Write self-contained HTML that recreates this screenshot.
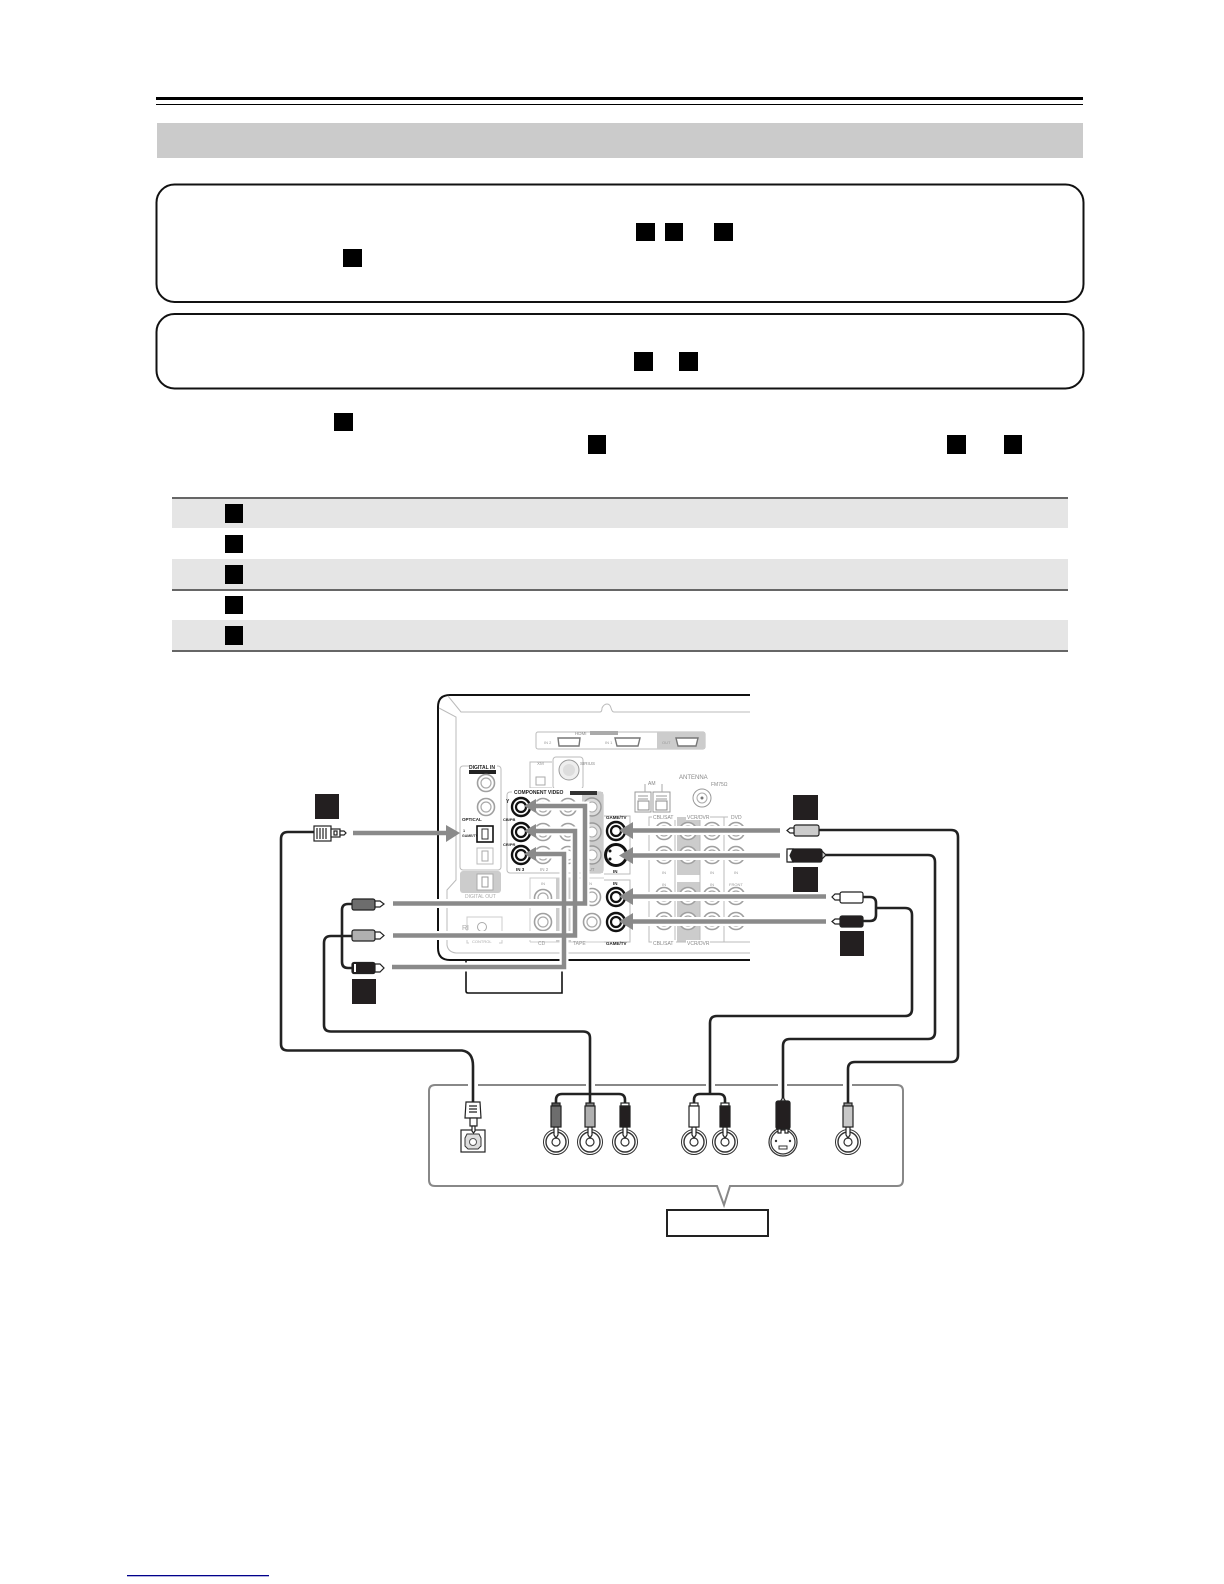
<!DOCTYPE html>
<html><head><meta charset="utf-8"><style>
html,body{margin:0;padding:0;background:#fff}
svg{display:block}
text{font-family:"Liberation Sans",sans-serif}
</style></head><body>
<svg width="1224" height="1584" viewBox="0 0 1224 1584" xmlns="http://www.w3.org/2000/svg">
<defs>
<g id="gj"><circle r="8.5" fill="#fff" stroke="#a0a0a0" stroke-width="1.6"/><circle r="5" fill="#fff" stroke="#aaa" stroke-width="1.2"/></g>
<g id="gs"><circle r="9" fill="#ddd" stroke="#999" stroke-width="1.4"/><circle r="5" fill="#fff" stroke="#aaa" stroke-width="1"/></g>
<g id="bj"><circle r="9" fill="#fff" stroke="#111" stroke-width="2.4"/><circle r="5" fill="#fff" stroke="#111" stroke-width="2.2"/></g>
<g id="lj"><circle r="12.500" fill="#fff" stroke="#333" stroke-width="1"/><circle r="10" fill="#fff" stroke="#333" stroke-width="1.4"/><circle r="4" fill="#fff" stroke="#333" stroke-width="1.2"/></g>
</defs>
<rect width="1224" height="1584" fill="#fff"/>

<rect x="156" y="97" width="927" height="3" fill="#000"/>
<rect x="156" y="104" width="927" height="1" fill="#000"/>
<rect x="157" y="123" width="926" height="35" fill="#cbcbcb"/>
<rect x="156.500" y="184.500" width="927" height="117.500" rx="18" fill="#fff" stroke="#111" stroke-width="2"/>
<rect x="156.500" y="314" width="927" height="74.500" rx="18" fill="#fff" stroke="#111" stroke-width="2"/>

<g fill="#000">
<rect x="636" y="223" width="19" height="18"/><rect x="665" y="223" width="18" height="18"/><rect x="714" y="223" width="19" height="18"/>
<rect x="343" y="249" width="19" height="18"/>
<rect x="634" y="352" width="19" height="19"/><rect x="679" y="352" width="19" height="19"/>
<rect x="334" y="413" width="19" height="18"/>
<rect x="588" y="435" width="18" height="19"/><rect x="947" y="435" width="19" height="19"/><rect x="1004" y="435" width="18" height="19"/>
</g>

<rect x="172" y="499" width="896" height="29" fill="#e5e5e5"/>
<rect x="172" y="559" width="896" height="30" fill="#e5e5e5"/>
<rect x="172" y="620" width="896" height="30" fill="#e5e5e5"/>
<rect x="172" y="497" width="896" height="2" fill="#666"/>
<rect x="172" y="589" width="896" height="2" fill="#666"/>
<rect x="172" y="650" width="896" height="2" fill="#666"/>
<g fill="#000">
<rect x="225" y="504" width="18" height="19"/><rect x="225" y="535" width="18" height="18"/><rect x="225" y="565" width="18" height="19"/><rect x="225" y="596" width="18" height="18"/><rect x="225" y="626" width="18" height="19"/>
</g>

<g style="filter:blur(.35px)">
<!-- rear panel -->
<path d="M750 695H450Q438 695 438 707V948Q438 960 450 960H750" fill="none" stroke="#111" stroke-width="2"/>
<path d="M466 961V991Q466 993 468 993H562V961" fill="none" stroke="#111" stroke-width="1.6"/>
<g fill="none" stroke="#bbb" stroke-width="1">
<path d="M448 696L461 712H600Q602 712 602 708Q604 704 607 704Q610 704 611 708Q612 712 614 712H750"/>
<path d="M439 708L456 717V880L447 890V905L447 945Q448 952 456 953H750" />
</g>
<!-- HDMI -->
<rect x="536" y="732" width="169" height="17" rx="2" fill="#fff" stroke="#bbb"/>
<rect x="657" y="732" width="48" height="17" fill="#ccc"/>
<g fill="#fff" stroke="#777" stroke-width="1.4">
<path d="M558 738H580L579 746H559Z"/><path d="M615 738H640L638 746H617Z"/><path d="M676 738H698L696 746H678Z"/>
</g>
<text x="575" y="735" font-size="4.500" fill="#888">HDMI</text>
<text x="544" y="744" font-size="4" fill="#999">IN 2</text>
<text x="605" y="744" font-size="4" fill="#999">IN 1</text>
<text x="662" y="744" font-size="4" fill="#999">OUT</text>
<rect x="590" y="731" width="28" height="4" fill="#aaa"/>

<!-- digital in -->
<rect x="460" y="766" width="41" height="104" rx="3" fill="#fff" stroke="#bbb"/>
<rect x="469" y="764" width="28" height="5" fill="#fff"/>
<text x="469" y="769" font-size="5" font-weight="bold" fill="#222">DIGITAL IN</text>
<rect x="469" y="770" width="27" height="4" fill="#222"/>
<use href="#gj" x="486" y="783"/><use href="#gj" x="486" y="807"/>
<text x="462" y="821" font-size="4.500" font-weight="bold" fill="#222">OPTICAL</text>
<text x="463" y="832" font-size="3.800" font-weight="bold" fill="#333">1</text>
<text x="462" y="837" font-size="3.500" font-weight="bold" fill="#333">GAME/TV</text>
<rect x="477" y="826" width="16" height="16" fill="#fff" stroke="#111" stroke-width="1.6"/>
<path d="M482 829H488V839H482Z" fill="#fff" stroke="#333"/>
<rect x="477" y="848" width="16" height="16" fill="#fff" stroke="#bbb"/>
<path d="M482 851H488V861H482Z" fill="#fff" stroke="#aaa"/>
<rect x="460" y="871" width="41" height="22" rx="3" fill="#ccc"/>
<rect x="477" y="874" width="16" height="16" fill="#fff" stroke="#aaa"/>
<path d="M482 877H488V887H482Z" fill="#fff" stroke="#999"/>
<text x="465" y="898" font-size="5" fill="#aaa">DIGITAL OUT</text>
<path d="M467 943H502V917H467Z" fill="none" stroke="#ccc"/>
<rect x="469" y="938" width="30" height="7" fill="#fff"/>
<circle cx="482" cy="927" r="4.500" fill="#fff" stroke="#aaa"/>
<text x="462" y="930" font-size="7" fill="#aaa">RI</text>
<text x="472" y="943" font-size="4" fill="#aaa">CONTROL</text>

<!-- XM / Sirius -->
<path d="M552 762H530V788H552" fill="none" stroke="#bbb"/>
<rect x="553" y="757" width="30" height="32" rx="3" fill="#fff" stroke="#bbb"/>
<circle cx="569" cy="770" r="10" fill="#eee" stroke="#999"/>
<circle cx="569" cy="770" r="6" fill="#ddd"/>
<rect x="536" y="777" width="9" height="8" fill="#fff" stroke="#aaa"/>
<text x="537" y="765" font-size="4.500" fill="#999">XM</text>
<text x="580" y="765" font-size="4.500" fill="#888">SIRIUS</text>

<!-- component -->
<rect x="507" y="792" width="96" height="81" rx="3" fill="#fff" stroke="#bbb"/>
<rect x="582" y="792" width="21" height="81" fill="#ccc"/>
<rect x="512" y="788" width="82" height="7" fill="#fff"/>
<text x="514" y="794" font-size="5" font-weight="bold" fill="#222">COMPONENT VIDEO</text>
<rect x="570" y="791" width="27" height="4" fill="#333"/>
<use href="#gj" x="543" y="807"/><use href="#gj" x="568" y="807"/><use href="#gj" x="543" y="832"/><use href="#gj" x="568" y="832"/><use href="#gj" x="543" y="855"/><use href="#gj" x="568" y="855"/>
<use href="#gs" x="592" y="807"/><use href="#gs" x="592" y="832"/><use href="#gs" x="592" y="855"/>
<text x="506" y="803" font-size="5" font-weight="bold" fill="#222">Y</text>
<text x="503" y="821" font-size="4" font-weight="bold" fill="#222">CB/PB</text>
<text x="503" y="846" font-size="4" font-weight="bold" fill="#222">CR/PR</text>
<text x="516" y="871" font-size="4.500" font-weight="bold" fill="#222">IN 3</text>
<text x="540" y="871" font-size="4.500" fill="#999">IN 2</text>
<text x="560" y="871" font-size="4.500" fill="#999">IN 1</text>
<text x="585" y="871" font-size="4.500" fill="#888">OUT</text>

<!-- CD / TAPE -->
<path d="M530 942V878H604M530 942H604" fill="none" stroke="#ccc"/>
<rect x="556" y="878" width="15" height="64" fill="#ccc"/>
<use href="#gj" x="543" y="898"/><use href="#gj" x="543" y="922"/>
<use href="#gj" x="592" y="897"/><use href="#gj" x="592" y="922"/>
<text x="538" y="945" font-size="5" fill="#999">CD</text>
<text x="573" y="945" font-size="5" fill="#999">TAPE</text>
<text x="541" y="885" font-size="4" fill="#999">IN</text>
<text x="588" y="885" font-size="4" fill="#999">IN</text>

<!-- game column -->
<path d="M604 816H630V874H604M604 880H630V942H604" fill="none" stroke="#bbb"/>
<text x="606" y="819" font-size="4.500" font-weight="bold" fill="#222">GAME/TV</text>
<text x="613" y="873" font-size="4.500" font-weight="bold" fill="#222">IN</text>
<text x="613" y="885" font-size="4.500" font-weight="bold" fill="#222">IN</text>
<text x="606" y="945" font-size="4.500" font-weight="bold" fill="#222">GAME/TV</text>

<!-- right block -->
<rect x="677" y="817" width="23" height="58" fill="#ccc"/>
<rect x="677" y="882" width="23" height="60" fill="#ccc"/>
<path d="M675 817H649V942H750M700 817H750M675 817V942M700 817V942M724 817V942" fill="none" stroke="#bbb"/>
<g>
<use href="#gj" x="664" y="831"/><use href="#gj" x="688" y="831"/><use href="#gj" x="712" y="831"/><use href="#gj" x="736" y="831"/>
<use href="#gj" x="664" y="855"/><use href="#gj" x="688" y="855"/><use href="#gj" x="712" y="855"/><use href="#gj" x="736" y="855"/>
<use href="#gj" x="664" y="896"/><use href="#gj" x="688" y="896"/><use href="#gj" x="712" y="896"/><use href="#gj" x="736" y="896"/>
<use href="#gj" x="664" y="921"/><use href="#gj" x="688" y="921"/><use href="#gj" x="712" y="921"/><use href="#gj" x="736" y="921"/>
</g>
<rect x="652" y="814" width="24" height="6" fill="#fff"/><rect x="686" y="814" width="24" height="6" fill="#fff"/><rect x="728" y="814" width="22" height="6" fill="#fff"/>
<text x="653" y="819" font-size="5" fill="#888">CBL/SAT</text>
<text x="687" y="819" font-size="5" fill="#888">VCR/DVR</text>
<text x="731" y="819" font-size="5" fill="#888">DVD</text>
<rect x="652" y="940" width="24" height="6" fill="#fff"/><rect x="686" y="940" width="24" height="6" fill="#fff"/>
<text x="653" y="945" font-size="5" fill="#888">CBL/SAT</text>
<text x="687" y="945" font-size="5" fill="#888">VCR/DVR</text>
<text x="662" y="874" font-size="4" fill="#999">IN</text><text x="710" y="874" font-size="4" fill="#999">IN</text><text x="734" y="874" font-size="4" fill="#999">IN</text>
<text x="662" y="886" font-size="4" fill="#999">IN</text><text x="710" y="886" font-size="4" fill="#999">IN</text><text x="729" y="886" font-size="4" fill="#999">FRONT</text>

<!-- antenna -->
<path d="M635 812V792H651V812ZM653 812V792H670V812Z" fill="#fff" stroke="#999"/>
<path d="M638 796H648M638 799H648M656 796H667M656 799H667" stroke="#999" fill="none"/>
<rect x="638" y="801" width="11" height="9" fill="#fff" stroke="#888"/><rect x="656" y="801" width="11" height="9" fill="#fff" stroke="#888"/>
<path d="M645 784V792M662 784V792" stroke="#aaa"/>
<text x="648" y="785" font-size="5" fill="#888">AM</text>
<text x="679" y="779" font-size="6" fill="#888">ANTENNA</text>
<text x="711" y="786" font-size="5" fill="#888">FM75&#937;</text>
<circle cx="702" cy="798" r="9" fill="#fff" stroke="#999"/><circle cx="702" cy="798" r="5" fill="#fff" stroke="#aaa"/><circle cx="702" cy="798" r="1.500" fill="#777"/>

<!-- white halos + black jacks -->
<g fill="none" stroke="#fff" stroke-width="9">
<path d="M780 830.500H632M780 855.500H632M826 896.500H632M826 921.500H632"/>
<path d="M535 806H585V903.500H393M535 831H575V935.500H393M535 854H564V967H393"/>
</g>
<g>
<use href="#bj" x="521" y="807"/><use href="#bj" x="521" y="832"/><use href="#bj" x="521" y="855"/>
<use href="#bj" x="616" y="831"/><use href="#bj" x="616" y="897"/><use href="#bj" x="616" y="922"/>
<circle cx="616" cy="855" r="10.500" fill="#fff" stroke="#111" stroke-width="3"/>
<circle cx="610" cy="851" r="1.500" fill="#111"/><circle cx="610" cy="859" r="1.500" fill="#111"/>
</g>
</g>

<!-- gray arrows -->
<g fill="none" stroke="#8a8a8a" stroke-width="4.500">
<path d="M780 830.500H630M780 855.500H630M826 896.500H630M826 921.500H630"/>
<path d="M533 806H585V903.500H393M533 831H575V935.500H393M533 854H564V967H392"/>
<path d="M353 833H447"/>
</g>
<g fill="#8a8a8a">
<path d="M619 830.500L633 822V839Z"/><path d="M619 855.500L633 847V864Z"/><path d="M619 896.500L633 888V905Z"/><path d="M619 921.500L633 913V930Z"/>
<path d="M524 806L536 799V813Z"/><path d="M524 831L536 824V838Z"/><path d="M524 854L536 847V861Z"/>
<path d="M460 833L446 825V842Z"/>
</g>

<!-- dark squares -->
<g fill="#231f20">
<rect x="315" y="794" width="24" height="25"/><rect x="352" y="979" width="24" height="25"/>
<rect x="793" y="795" width="25" height="25"/><rect x="793" y="867" width="25" height="25"/><rect x="840" y="931" width="24" height="25"/>
</g>

<!-- bottom box -->
<path d="M435 1085H897Q903 1085 903 1091V1180Q903 1186 897 1186H730L724 1205L717 1186H435Q429 1186 429 1180V1091Q429 1085 435 1085Z" fill="#fff" stroke="#888" stroke-width="2"/>
<g fill="#fff"><rect x="468" y="1082" width="10" height="6"/><rect x="586" y="1082" width="9" height="6"/><rect x="706" y="1082" width="9" height="6"/><rect x="778" y="1082" width="9" height="6"/><rect x="843" y="1082" width="9" height="6"/></g>
<rect x="667" y="1210" width="101" height="26" fill="#fff" stroke="#222" stroke-width="2"/>

<!-- cables -->
<g fill="none" stroke="#222" stroke-width="2.600">
<path d="M314 832H288Q281 832 281 839V1044Q281 1050.500 288 1050.500H462Q473 1052 473 1066V1104"/>
<path d="M352 936H331Q324 936 324 943V1025Q324 1031.500 331 1031.500H583Q590 1031.500 590 1038V1105"/>
<path d="M352 904H348Q342 904 342 910V962Q342 968 348 968H352"/>
<path d="M818 830H951Q958 830 958 837V1055Q958 1062 951 1062H855Q848 1062 848 1069V1104"/>
<path d="M825 855H928Q935 855 935 862V1032Q935 1039 928 1039H790Q783 1039 783 1046V1098"/>
<path d="M863 897H870Q876 897 876 903V915Q876 921 870 921H863"/>
<path d="M876 908H905Q912 908 912 915V1009Q912 1016 905 1016H717Q710 1016 710 1023V1094"/>
<path d="M556 1104V1100Q556 1094 562 1094H619Q625 1094 625 1100V1104"/>
<path d="M694 1104V1100Q694 1094 700 1094H719Q725 1094 725 1100V1104"/>
</g>

<!-- left plugs -->
<g stroke="#222" stroke-width="1.200">
<rect x="314" y="826" width="17" height="15" fill="#fff"/>
<path d="M317 828V839M320 828V839M323 828V839M326 828V839" fill="none"/>
<rect x="331" y="829" width="9" height="8" fill="#fff"/>
<rect x="334" y="831" width="3" height="4" fill="#fff"/>
<path d="M340 831H344L346 833L344 835H340Z" fill="#fff"/>
<rect x="352" y="899" width="23" height="11" rx="2" fill="#6d6d6d"/>
<path d="M375 901H380L384 904L380 907H375Z" fill="#fff"/>
<rect x="352" y="930" width="23" height="11" rx="2" fill="#b0b0b0"/>
<path d="M375 932H380L384 935.500L380 939H375Z" fill="#fff"/>
<rect x="352" y="962.500" width="23" height="11" rx="2" fill="#231f20"/>
<rect x="354" y="964" width="2" height="8" fill="#fff" stroke="none"/>
<path d="M375 964H380L384 968L380 972H375Z" fill="#fff"/>
</g>

<!-- right plugs -->
<g stroke="#222" stroke-width="1.200">
<rect x="794" y="825" width="25" height="11" rx="2" fill="#ccc"/>
<path d="M794 828H790L787 830.500L790 833H794Z" fill="#fff"/>
<rect x="787" y="849" width="35" height="13" rx="2" fill="#231f20"/>
<path d="M787 849H793L790 855.500L793 862H787Z" fill="#fff"/>
<path d="M822 851L826 855L822 859Z" fill="#ccc"/>
<rect x="840" y="892" width="23" height="11" rx="2" fill="#fff"/>
<path d="M840 894H835L832 897L835 900H840Z" fill="#fff"/>
<rect x="840" y="916" width="23" height="11" rx="2" fill="#231f20"/>
<path d="M840 919H835L832 921.500L835 924H840Z" fill="#fff"/>
</g>

<!-- bottom connectors -->
<g>
<use href="#lj" x="556" y="1142"/><use href="#lj" x="590" y="1142"/><use href="#lj" x="625" y="1142"/>
<use href="#lj" x="694" y="1142"/><use href="#lj" x="725" y="1142"/><use href="#lj" x="848" y="1142"/>
<circle cx="783" cy="1142" r="14" fill="#fff" stroke="#333" stroke-width="1.200"/><circle cx="783" cy="1142" r="12" fill="#fff" stroke="#333" stroke-width="1.200"/>
<rect x="779" y="1146" width="8" height="3" fill="#fff" stroke="#333"/><circle cx="776" cy="1141" r="1.200" fill="#333"/><circle cx="790" cy="1141" r="1.200" fill="#333"/>
<rect x="461" y="1130" width="24" height="22" fill="#fff" stroke="#222" stroke-width="1.200"/>
<path d="M467 1134H479L481 1138V1146L478 1149H468L465 1146V1138Z" fill="#ddd" stroke="#333"/><circle cx="473" cy="1142" r="3.500" fill="#fff" stroke="#555"/>
</g>
<g stroke="#222" stroke-width="1.200">
<path d="M554 1127V1135L556 1138L558 1135V1127ZM588 1127V1135L590 1138L592 1135V1127ZM623 1127V1135L625 1138L627 1135V1127ZM692 1127V1135L694 1138L696 1135V1127ZM723 1127V1135L725 1138L727 1135V1127ZM846 1127V1135L848 1138L850 1135V1127Z" fill="#fff"/>
<rect x="552" y="1103" width="8" height="3" fill="#555"/><rect x="551" y="1106" width="10" height="21" fill="#6d6d6d"/>
<rect x="586" y="1103" width="8" height="3" fill="#888"/><rect x="585" y="1106" width="10" height="21" fill="#b0b0b0"/>
<rect x="621" y="1103" width="8" height="3" fill="#fff"/><rect x="620" y="1106" width="10" height="21" fill="#231f20"/>
<rect x="690" y="1103" width="8" height="3" fill="#fff"/><rect x="689" y="1106" width="10" height="21" fill="#fff"/>
<rect x="721" y="1103" width="8" height="3" fill="#fff"/><rect x="720" y="1106" width="10" height="21" fill="#231f20"/>
<rect x="844" y="1103" width="8" height="3" fill="#999"/><rect x="843" y="1106" width="10" height="21" fill="#c8c8c8"/>
<path d="M780 1102L783 1097L786 1102Z" fill="#ccc"/>
<rect x="776" y="1101" width="14" height="28" rx="2" fill="#231f20"/>
<path d="M778 1129V1133H781V1129ZM785 1129V1133H788V1129Z" fill="#fff"/>
<path d="M466 1102H480L481 1118H465Z" fill="#fff"/>
<path d="M469 1106H477M469 1109H477M469 1112H477" fill="none"/>
<rect x="470" y="1118" width="7" height="8" fill="#fff"/>
<path d="M472 1126V1131L473.500 1133L475 1131V1126Z" fill="#fff"/>
</g>

<rect x="127" y="1575" width="142" height="1.300" fill="#00008b"/>
</svg>
</body></html>
